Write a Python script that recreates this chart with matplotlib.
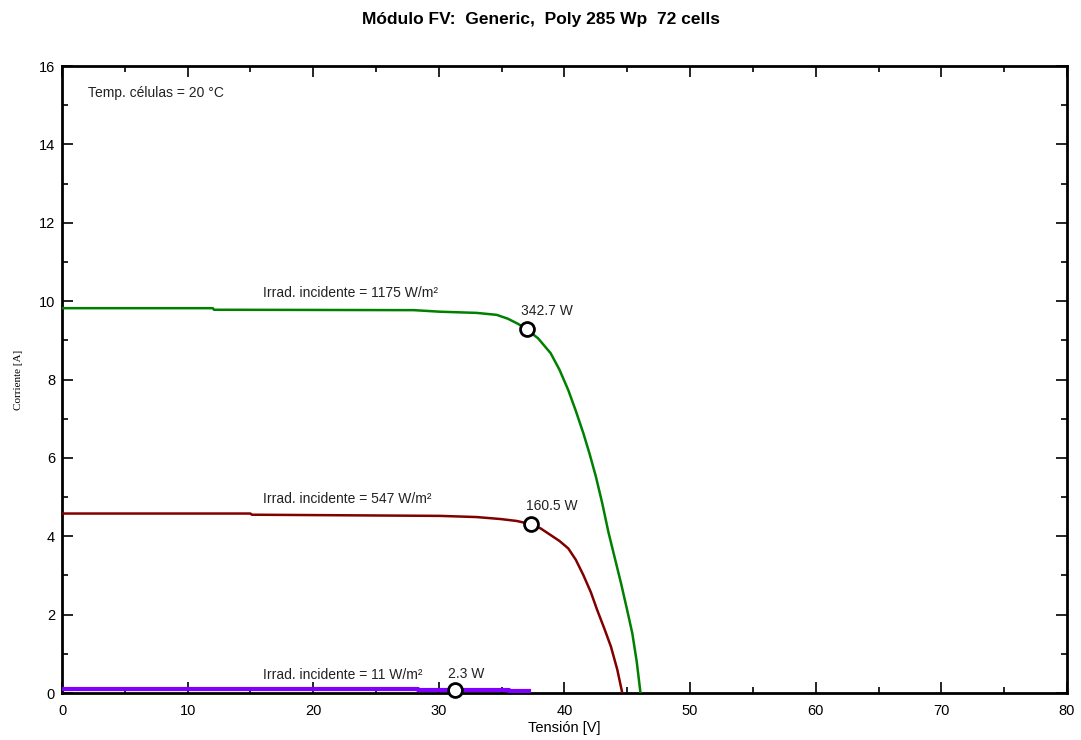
import matplotlib
matplotlib.use("Agg")
import matplotlib.pyplot as plt
from matplotlib.ticker import MultipleLocator

plt.rcParams['font.family'] = ['Liberation Sans', 'DejaVu Sans']

# curvas I-V
v_1175 = [0, 12, 12.1, 28, 30.1, 33, 34.6, 35.5, 36.3, 37.0, 37.9, 38.9, 39.6, 40.3, 40.9,
          41.5, 42.0, 42.5, 43.0, 43.5, 44.0, 44.5, 45.0, 45.4, 45.75, 46.05]
i_1175 = [9.82, 9.82, 9.78, 9.77, 9.73, 9.70, 9.65, 9.55, 9.42, 9.28, 9.05, 8.67, 8.25, 7.73, 7.2,
          6.63, 6.1, 5.52, 4.85, 4.1, 3.45, 2.80, 2.1, 1.52, 0.8, 0.0]

v_547 = [0, 15, 15.1, 30.1, 33, 34.9, 36.2, 37.3, 38.1, 38.9, 39.6, 40.3, 40.9, 41.5, 42.1,
         42.6, 43.2, 43.7, 44.2, 44.6]
i_547 = [4.58, 4.58, 4.55, 4.52, 4.49, 4.44, 4.39, 4.31, 4.2, 4.03, 3.88, 3.69, 3.4, 3.01, 2.57,
         2.12, 1.62, 1.18, 0.6, 0.0]

v_11 = [0, 28.3, 28.3, 35.6, 35.6, 37.2]
i_11 = [0.095, 0.095, 0.08, 0.08, 0.05, 0.05]

# puntos de maxima potencia
mpp_v = [37.0, 37.3, 31.3]
mpp_i = [9.28, 4.31, 0.073]
mpp_txt = ["342.7 W", "160.5 W", "2.3 W"]

irrad_txt = ["Irrad. incidente = 1175 W/m²", "Irrad. incidente = 547 W/m²",
             "Irrad. incidente = 11 W/m²"]

fig = plt.figure(figsize=(10.81, 7.40), dpi=100)
ax = fig.add_axes([0.0574, 0.0635, 0.9296, 0.8473])

ax.plot(v_1175, i_1175, color='#008000', lw=1.8, zorder=3)
ax.plot(v_547, i_547, color='#800000', lw=1.8, zorder=3)
ax.plot(v_11, i_11, color='#8000ff', lw=3, zorder=3)
ax.plot(mpp_v, mpp_i, 'o', ms=10, mfc='white', mec='black', mew=2, zorder=5, clip_on=False)

# etiquetas de irradiancia y potencia
irr_y = [10.2, 4.95, 0.46]
pw_x = [36.5, 36.9, 30.7]
pw_y = [9.75, 4.77, 0.48]
for k in range(3):
    ax.text(16.0, irr_y[k], irrad_txt[k], fontsize=10, va='center', ha='left', color='#222222')
    ax.text(pw_x[k], pw_y[k], mpp_txt[k], fontsize=10, va='center', ha='left', color='#222222')

ax.text(2.07, 15.3, "Temp. células = 20 °C", fontsize=10, va='center', ha='left', color='#222222')

ax.set_xlim(0, 80)
ax.set_ylim(0, 16)
ax.xaxis.set_major_locator(MultipleLocator(10))
ax.xaxis.set_minor_locator(MultipleLocator(5))
ax.yaxis.set_major_locator(MultipleLocator(2))
ax.yaxis.set_minor_locator(MultipleLocator(1))
ax.tick_params(which='both', direction='in', top=True, right=True, labelsize=10.5, width=1.2)
ax.tick_params(which='major', length=8)
ax.tick_params(which='minor', length=4)
ax.tick_params(axis='x', pad=8)
ax.tick_params(axis='y', pad=5)
for s in ax.spines.values():
    s.set_linewidth(2.0)

ax.set_xlabel("Tensión [V]", fontsize=10.5, labelpad=2)
ax.set_ylabel("Corriente [A]", fontsize=8, family=['Liberation Serif', 'DejaVu Serif'], labelpad=11)

fig.text(0.5, 0.974, "Módulo FV:  Generic,  Poly 285 Wp  72 cells", ha='center', va='center',
         fontsize=12.5, fontweight='bold')

fig.savefig("out.png", dpi=100)
